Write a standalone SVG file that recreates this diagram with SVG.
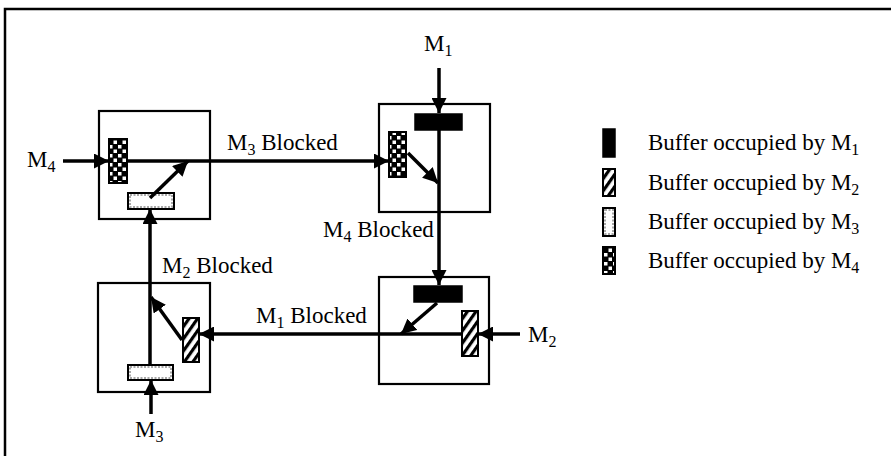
<svg xmlns="http://www.w3.org/2000/svg" width="891" height="456" viewBox="0 0 891 456">
<defs>
<style>
text{font-family:"Liberation Serif","Times New Roman",serif;font-size:23px;fill:#000}
.sub{font-size:16px}
.box{fill:none;stroke:#000;stroke-width:2.2}
.arr{fill:none;stroke:#000;stroke-width:3.5;marker-end:url(#ah)}
.b1{fill:#000;stroke:#000;stroke-width:1.5}
.b2{fill:url(#hatch);stroke:#000;stroke-width:2}
.b3{fill:#fff;stroke:#000;stroke-width:2}
.b3i{fill:none;stroke:#a8a8a8;stroke-width:2;stroke-dasharray:2 1.5}
.b4{fill:url(#check);stroke:#000;stroke-width:2}
</style>
<marker id="ah" viewBox="0 0 10 10" refX="10" refY="5" markerUnits="userSpaceOnUse" markerWidth="15" markerHeight="15" orient="auto">
<path d="M0,0 L10,5 L0,10 z" fill="#000"/>
</marker>
<pattern id="hatch" patternUnits="userSpaceOnUse" width="7" height="7" patternTransform="rotate(35)">
<rect width="7" height="7" fill="#fff"/>
<rect width="3.2" height="7" fill="#000"/>
</pattern>
<pattern id="check" patternUnits="userSpaceOnUse" width="9" height="9">
<rect width="9" height="9" fill="#000"/>
<rect x="1" y="1" width="3.5" height="3.5" fill="#fff"/>
<rect x="5.5" y="5.5" width="3.5" height="3.5" fill="#fff"/>
</pattern>
</defs>

<path id="frame" d="M5,456 V9 H891" fill="none" stroke="#000" stroke-width="2.5"/>

<g id="node-tl">
<rect class="box" x="99" y="111" width="111" height="108"/>
<rect class="b4" x="109" y="139" width="18" height="44"/>
<rect class="b3" x="128" y="193" width="46" height="16"/>
<rect class="b3i" x="130" y="195" width="42" height="12"/>
</g>

<g id="node-tr">
<rect class="box" x="379" y="104" width="111" height="108"/>
<rect class="b1" x="415" y="114" width="47" height="16"/>
<rect class="b4" x="389" y="132" width="17" height="45"/>
</g>

<g id="node-br">
<rect class="box" x="379" y="277" width="110" height="107"/>
<rect class="b1" x="414" y="286" width="48" height="16"/>
<rect class="b2" x="462" y="311" width="16" height="45"/>
</g>

<g id="node-bl">
<rect class="box" x="98" y="283" width="112" height="109"/>
<rect class="b3" x="128" y="365" width="45" height="15"/>
<rect class="b3i" x="130" y="367" width="41" height="11"/>
<rect class="b2" x="183" y="318" width="16" height="44"/>
</g>

<g id="connectors">
<line class="arr" x1="439" y1="68" x2="439" y2="113"/>
<line class="arr" x1="439" y1="130" x2="439" y2="285"/>
<line class="arr" x1="127" y1="161" x2="389" y2="161"/>
<line class="arr" x1="63" y1="161" x2="109" y2="161"/>
<line class="arr" x1="150" y1="198" x2="188" y2="161"/>
<line class="arr" x1="408" y1="153" x2="438" y2="183"/>
<line class="arr" x1="437" y1="303" x2="401" y2="334"/>
<line class="arr" x1="182" y1="340" x2="151" y2="297"/>
<line class="arr" x1="462" y1="334" x2="199" y2="334"/>
<line class="arr" x1="520" y1="334" x2="478" y2="334"/>
<line class="arr" x1="150" y1="365" x2="150" y2="209"/>
<line class="arr" x1="151" y1="414" x2="151" y2="380"/>
</g>

<g id="labels">
<text x="424" y="51">M<tspan class="sub" dy="5">1</tspan></text>
<text x="27" y="167">M<tspan class="sub" dy="5">4</tspan></text>
<text x="227" y="150">M<tspan class="sub" dy="5">3</tspan><tspan dy="-5"> Blocked</tspan></text>
<text x="323" y="237">M<tspan class="sub" dy="5">4</tspan><tspan dy="-5"> Blocked</tspan></text>
<text x="162" y="273">M<tspan class="sub" dy="5">2</tspan><tspan dy="-5"> Blocked</tspan></text>
<text x="256" y="323">M<tspan class="sub" dy="5">1</tspan><tspan dy="-5"> Blocked</tspan></text>
<text x="528" y="342">M<tspan class="sub" dy="5">2</tspan></text>
<text x="135" y="437">M<tspan class="sub" dy="5">3</tspan></text>
</g>

<g id="legend">
<rect class="b1" x="603" y="129" width="12" height="28"/>
<rect class="b2" x="603" y="169" width="12" height="27"/>
<rect class="b3" x="603" y="208" width="12" height="28"/>
<rect class="b3i" x="605" y="210" width="8" height="24"/>
<rect class="b4" x="603" y="247" width="12" height="27"/>
<text x="648" y="150">Buffer occupied by M<tspan class="sub" dy="5">1</tspan></text>
<text x="648" y="190">Buffer occupied by M<tspan class="sub" dy="5">2</tspan></text>
<text x="648" y="229">Buffer occupied by M<tspan class="sub" dy="5">3</tspan></text>
<text x="648" y="268">Buffer occupied by M<tspan class="sub" dy="5">4</tspan></text>
</g>
</svg>
